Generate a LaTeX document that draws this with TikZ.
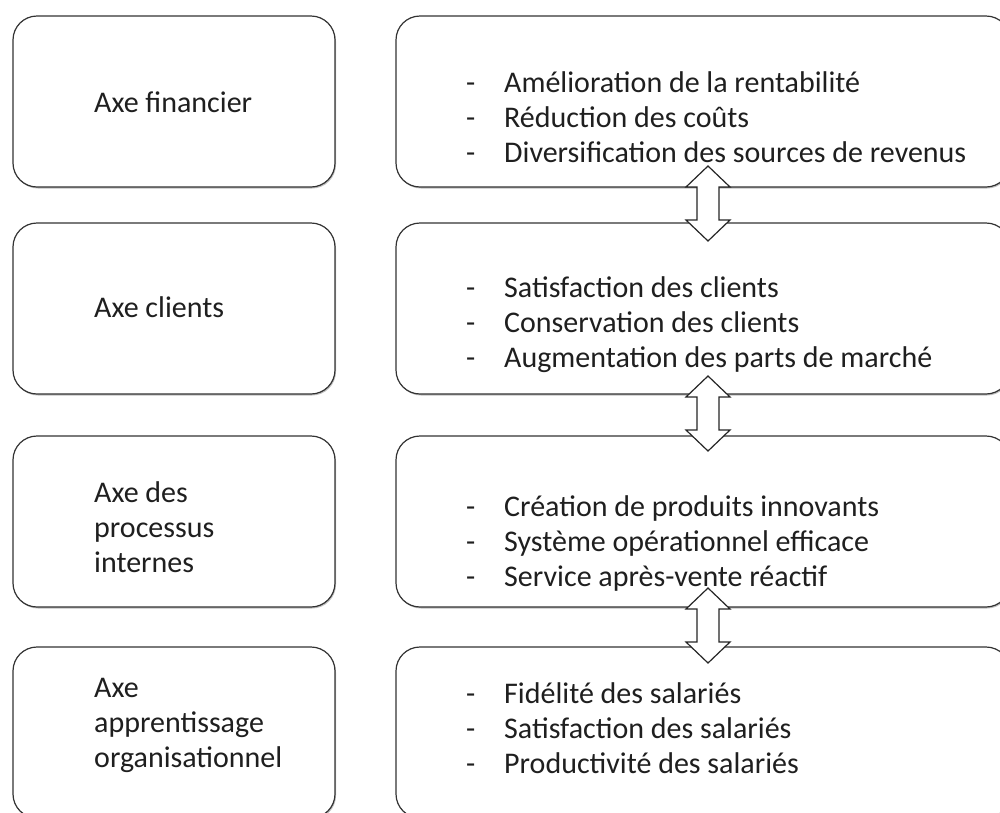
\documentclass[tikz,border=0pt]{standalone}
\usepackage{fontspec}
\setmainfont{Carlito}
\usetikzlibrary{shadows,calc}
\tikzset{
  boxsty/.style={draw=black!80, line width=1.2pt, rounded corners=24pt, fill=white,
    drop shadow={shadow xshift=1pt, shadow yshift=-1.5pt, opacity=0.25, fill=black},
    minimum height=171pt, inner sep=0pt},
  leftbox/.style={boxsty, minimum width=322pt},
  rightbox/.style={boxsty, minimum width=614pt},
  txt/.style={font=\fontsize{30pt}{35pt}\selectfont, align=left, anchor=west, inner sep=0pt, text=black!88},
  dblarr/.pic={\draw[fill=white, draw=black!85, line width=1.2pt, line join=miter]
     (0,-37.5) -- (22,-16.5) -- (11,-16.5) -- (11,16.5) -- (22,16.5) -- (0,37.5)
     -- (-22,16.5) -- (-11,16.5) -- (-11,-16.5) -- (-22,-16.5) -- cycle;}
}
\newcommand{\itm}[1]{\makebox[38pt][l]{-}#1}
\begin{document}
\begin{tikzpicture}[x=1pt,y=-1pt]
\useasboundingbox (0,0) rectangle (1000,812);
\fill[white] (0,0) rectangle (1000,812);
\clip (0,0) rectangle (1000,812);
% left boxes
\node[leftbox] (l1) at (174,101.5) {};
\node[leftbox] (l2) at (174,308.5) {};
\node[leftbox] (l3) at (174,521.5) {};
\node[leftbox] (l4) at (174,732.5) {};
% right boxes
\node[rightbox] (r1) at (703,101.5) {};
\node[rightbox] (r2) at (703,308.5) {};
\node[rightbox] (r3) at (703,521.5) {};
\node[rightbox] (r4) at (703,732.5) {};
% left texts
\node[txt] (t1) at (94,102) {Axe financier};
\node[txt] (t2) at (94,307) {Axe clients};
\node[txt] (t3) at (94,527) {Axe des\\processus\\internes};
\node[txt] (t4) at (94,725) {Axe\\apprentissage\\organisationnel};
% right texts
\node[txt] (s1) at (466,117) {\itm{Amélioration de la rentabilité}\\\itm{Réduction des coûts}\\\itm{Diversification des sources de revenus}};
\node[txt] (s2) at (466,325) {\itm{Satisfaction des clients}\\\itm{Conservation des clients}\\\itm{Augmentation des parts de marché}};
\node[txt] (s3) at (466,543) {\itm{Création de produits innovants}\\\itm{Système opérationnel efficace}\\\itm{Service après-vente réactif}};
\node[txt] (s4) at (466,728) {\itm{Fidélité des salariés}\\\itm{Satisfaction des salariés}\\\itm{Productivité des salariés}};
% double arrows
\pic at ($(r1.south)!0.5!(r2.north)+(5,-1.5)$) {dblarr};
\pic at ($(r2.south)!0.5!(r3.north)+(5,-1.5)$) {dblarr};
\pic at ($(r3.south)!0.5!(r4.north)+(5,-1.5)$) {dblarr};
\end{tikzpicture}
\end{document}
